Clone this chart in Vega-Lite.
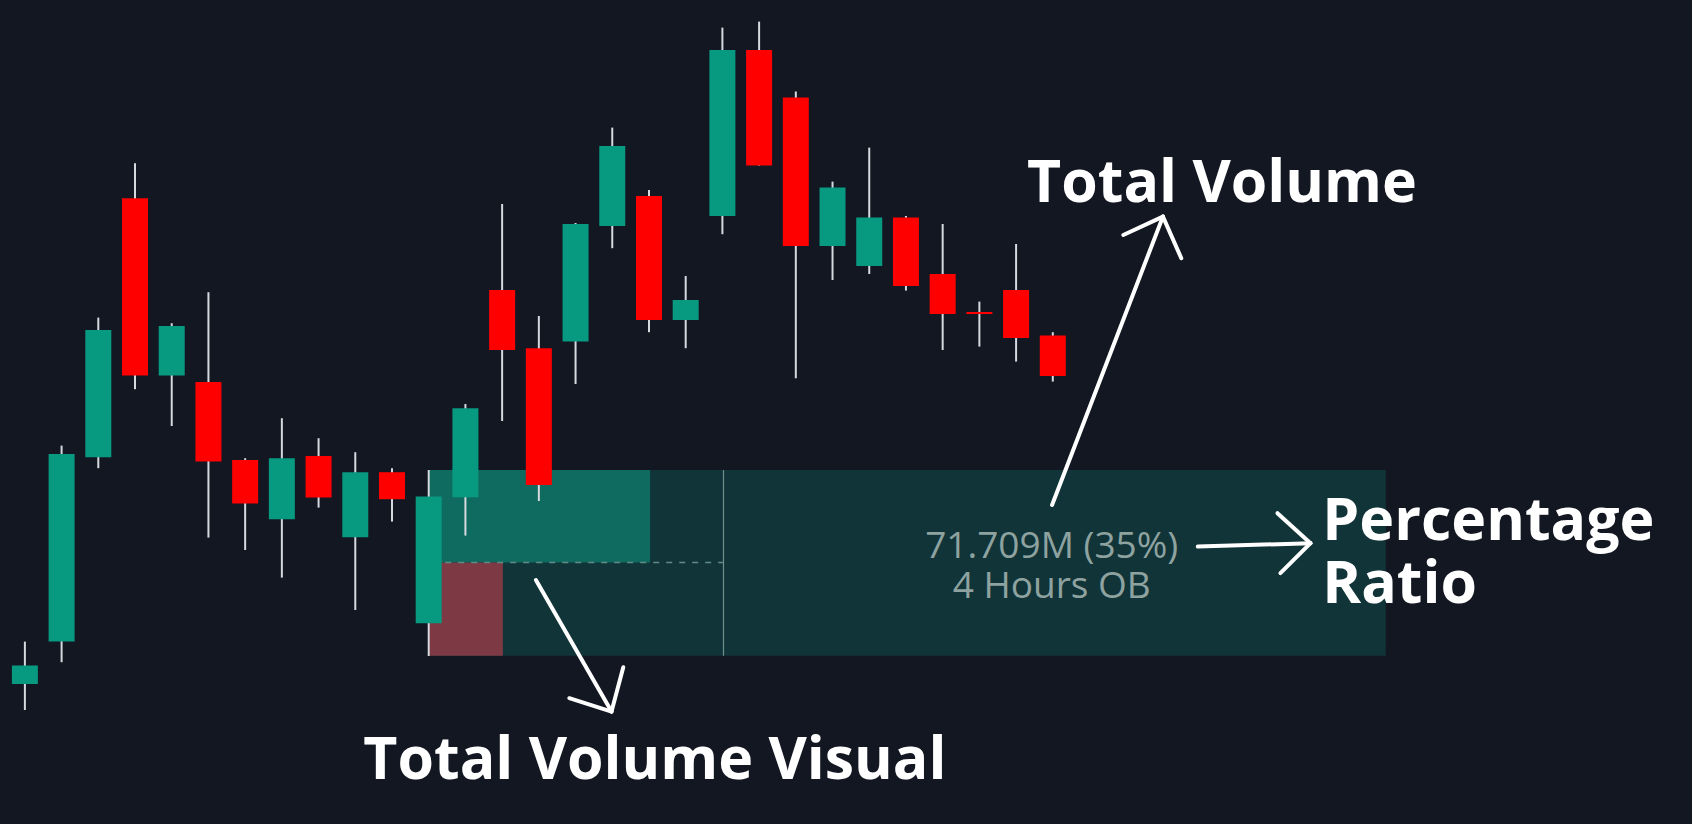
{
  "$schema": "https://vega.github.io/schema/vega-lite/v6.json",
  "width": 1692,
  "height": 824,
  "autosize": {"type": "none"},
  "padding": 0,
  "background": "#131722",
  "config": {"view": {"stroke": null}},
  "datasets": {
    "candles": [
      {"bar": 1, "open": 65.8, "high": 67.92, "low": 64.5, "close": 66.72},
      {"bar": 2, "open": 67.92, "high": 77.72, "low": 66.89, "close": 77.3},
      {"bar": 3, "open": 77.14, "high": 84.12, "low": 76.59, "close": 83.5},
      {"bar": 4, "open": 90.09, "high": 91.84, "low": 80.54, "close": 81.22},
      {"bar": 5, "open": 81.22, "high": 83.84, "low": 78.7, "close": 83.7},
      {"bar": 6, "open": 80.9, "high": 85.39, "low": 73.12, "close": 76.92},
      {"bar": 7, "open": 77.0, "high": 77.09, "low": 72.5, "close": 74.82},
      {"bar": 8, "open": 74.04, "high": 79.09, "low": 71.12, "close": 77.09},
      {"bar": 9, "open": 77.2, "high": 78.09, "low": 74.62, "close": 75.12},
      {"bar": 10, "open": 73.14, "high": 77.39, "low": 69.5, "close": 76.39},
      {"bar": 11, "open": 76.39, "high": 76.59, "low": 73.92, "close": 75.04},
      {"bar": 12, "open": 68.84, "high": 76.5, "low": 67.2, "close": 75.17},
      {"bar": 13, "open": 75.14, "high": 79.8, "low": 73.22, "close": 79.59},
      {"bar": 14, "open": 85.5, "high": 89.8, "low": 78.95, "close": 82.5},
      {"bar": 15, "open": 82.59, "high": 84.2, "low": 74.95, "close": 75.75},
      {"bar": 16, "open": 82.92, "high": 88.85, "low": 80.8, "close": 88.8},
      {"bar": 17, "open": 88.7, "high": 93.62, "low": 87.59, "close": 92.7},
      {"bar": 18, "open": 90.2, "high": 90.5, "low": 83.39, "close": 84.0},
      {"bar": 19, "open": 84.0, "high": 86.2, "low": 82.59, "close": 85.0},
      {"bar": 20, "open": 89.2, "high": 98.62, "low": 88.29, "close": 97.5},
      {"bar": 21, "open": 97.5, "high": 98.92, "low": 91.72, "close": 91.72},
      {"bar": 22, "open": 95.12, "high": 95.42, "low": 81.09, "close": 87.7},
      {"bar": 23, "open": 87.7, "high": 90.92, "low": 86.0, "close": 90.62},
      {"bar": 24, "open": 86.7, "high": 92.62, "low": 86.3, "close": 89.12},
      {"bar": 25, "open": 89.12, "high": 89.2, "low": 85.47, "close": 85.7},
      {"bar": 26, "open": 86.3, "high": 88.8, "low": 82.5, "close": 84.3},
      {"bar": 27, "open": 84.4, "high": 84.92, "low": 82.67, "close": 84.3},
      {"bar": 28, "open": 85.5, "high": 87.8, "low": 81.92, "close": 83.1},
      {"bar": 29, "open": 83.22, "high": 83.39, "low": 80.92, "close": 81.2}
    ],
    "zones": [
      {"part": "box", "x1": 12.0, "x2": 38.07, "top": 76.5, "bottom": 67.21},
      {"part": "bull", "x1": 12.0, "x2": 18.03, "top": 76.5, "bottom": 71.87},
      {"part": "bear", "x1": 12.0, "x2": 14.02, "top": 71.87, "bottom": 67.21}
    ],
    "arrows": [
      {"x1": 28.98, "y1": 74.75, "x2": 32.0, "y2": 89.17},
      {"x1": 30.92, "y1": 88.25, "x2": 32.0, "y2": 89.17},
      {"x1": 32.5, "y1": 87.09, "x2": 32.0, "y2": 89.17},
      {"x1": 32.95, "y1": 72.67, "x2": 36.02, "y2": 72.84},
      {"x1": 35.12, "y1": 74.34, "x2": 36.02, "y2": 72.84},
      {"x1": 35.2, "y1": 71.34, "x2": 36.02, "y2": 72.84},
      {"x1": 14.92, "y1": 71.0, "x2": 16.98, "y2": 64.42},
      {"x1": 15.83, "y1": 65.09, "x2": 16.98, "y2": 64.42},
      {"x1": 17.3, "y1": 66.64, "x2": 16.98, "y2": 64.42}
    ],
    "labels": [
      {"text": "Total Volume", "bar": 28.3, "price": 89.92},
      {"text": "Percentage", "bar": 36.34, "price": 73.0},
      {"text": "Ratio", "bar": 36.34, "price": 69.83},
      {"text": "Total Volume Visual", "bar": 10.22, "price": 61.03}
    ],
    "info": [
      {"text": "71.709M (35%)", "bar": 28.97, "price": 72.12},
      {"text": "4 Hours OB", "bar": 28.97, "price": 70.12}
    ]
  },
  "layer": [
    {
      "data": {"name": "zones"},
      "mark": {"type": "rect"},
      "encoding": {
        "x": {"field": "x1", "type": "quantitative", "scale": {"domain": [0.4584, 46.2754], "nice": false, "zero": false}, "axis": null},
        "x2": {"field": "x2"},
        "y": {"field": "top", "type": "quantitative", "scale": {"domain": [58.8, 100], "nice": false, "zero": false}, "axis": null},
        "y2": {"field": "bottom"},
        "color": {"field": "part", "type": "nominal", "scale": {"domain": ["box", "bull", "bear"], "range": ["#113438", "#0f6b5f", "#7d3a44"]}, "legend": null}
      }
    },
    {
      "data": {"values": [{"bar": 20.03, "top": 76.5, "bottom": 67.21}]},
      "mark": {"type": "rule", "color": "#6f908d", "strokeWidth": 1.2},
      "encoding": {
        "x": {"field": "bar", "type": "quantitative", "scale": {"domain": [0.4584, 46.2754], "nice": false, "zero": false}, "axis": null},
        "y": {"field": "top", "type": "quantitative", "scale": {"domain": [58.8, 100], "nice": false, "zero": false}, "axis": null},
        "y2": {"field": "bottom"}
      }
    },
    {
      "data": {"values": [{"from": 12.45, "to": 20.03, "price": 71.87}]},
      "mark": {"type": "rule", "color": "#5f8c86", "strokeWidth": 1.5, "strokeDash": [6, 7]},
      "encoding": {
        "x": {"field": "from", "type": "quantitative", "scale": {"domain": [0.4584, 46.2754], "nice": false, "zero": false}, "axis": null},
        "x2": {"field": "to"},
        "y": {"field": "price", "type": "quantitative", "scale": {"domain": [58.8, 100], "nice": false, "zero": false}, "axis": null}
      }
    },
    {
      "data": {"name": "candles"},
      "mark": {"type": "rule", "color": "#d6d9de", "strokeWidth": 2},
      "encoding": {
        "x": {"field": "bar", "type": "quantitative", "scale": {"domain": [0.4584, 46.2754], "nice": false, "zero": false}, "axis": null},
        "y": {"field": "low", "type": "quantitative", "scale": {"domain": [58.8, 100], "nice": false, "zero": false}, "axis": null},
        "y2": {"field": "high"}
      }
    },
    {
      "data": {"name": "candles"},
      "mark": {"type": "bar", "width": 26},
      "encoding": {
        "x": {"field": "bar", "type": "quantitative", "scale": {"domain": [0.4584, 46.2754], "nice": false, "zero": false}, "axis": null},
        "y": {"field": "open", "type": "quantitative", "scale": {"domain": [58.8, 100], "nice": false, "zero": false}, "axis": null},
        "y2": {"field": "close"},
        "color": {"condition": {"test": "datum.close >= datum.open", "value": "#089981"}, "value": "#ff0000"}
      }
    },
    {
      "data": {"name": "info"},
      "mark": {"type": "text", "font": "Open Sans", "fontSize": 37, "color": "#8ea2a0", "align": "center", "baseline": "alphabetic"},
      "encoding": {
        "x": {"field": "bar", "type": "quantitative", "scale": {"domain": [0.4584, 46.2754], "nice": false, "zero": false}, "axis": null},
        "y": {"field": "price", "type": "quantitative", "scale": {"domain": [58.8, 100], "nice": false, "zero": false}, "axis": null},
        "text": {"field": "text"}
      }
    },
    {
      "data": {"name": "arrows"},
      "mark": {"type": "rule", "color": "#ffffff", "strokeWidth": 4, "strokeCap": "round"},
      "encoding": {
        "x": {"field": "x1", "type": "quantitative", "scale": {"domain": [0.4584, 46.2754], "nice": false, "zero": false}, "axis": null},
        "y": {"field": "y1", "type": "quantitative", "scale": {"domain": [58.8, 100], "nice": false, "zero": false}, "axis": null},
        "x2": {"field": "x2"},
        "y2": {"field": "y2"}
      }
    },
    {
      "data": {"name": "labels"},
      "mark": {"type": "text", "font": "Open Sans", "fontWeight": "bold", "fontSize": 59, "color": "#ffffff", "align": "left", "baseline": "alphabetic"},
      "encoding": {
        "x": {"field": "bar", "type": "quantitative", "scale": {"domain": [0.4584, 46.2754], "nice": false, "zero": false}, "axis": null},
        "y": {"field": "price", "type": "quantitative", "scale": {"domain": [58.8, 100], "nice": false, "zero": false}, "axis": null},
        "text": {"field": "text"}
      }
    }
  ]
}
